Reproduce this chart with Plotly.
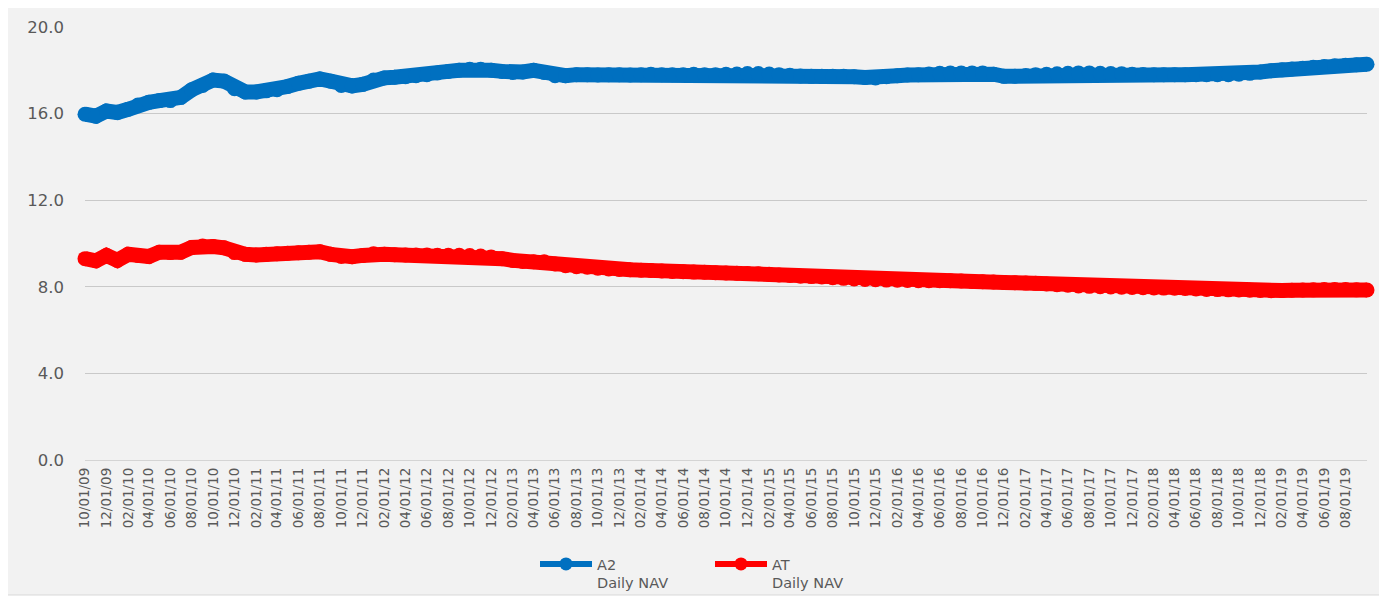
import pandas as pd
import plotly.graph_objects as go

# Monthly observation dates, Oct 2009 .. Oct 2019
dates = pd.date_range("2009-10-01", "2019-10-01", freq="MS")

a2_nav = [
    15.97, 15.88, 16.12,                                                        # 2009 Oct-Dec
    16.05, 16.20, 16.40, 16.52, 16.60, 16.60, 16.75, 17.10, 17.30, 17.55, 17.50, 17.15,  # 2010
    17.00, 17.00, 17.05, 17.10, 17.25, 17.40, 17.50, 17.60, 17.50, 17.30, 17.28, 17.35,  # 2011
    17.55, 17.65, 17.68, 17.70, 17.75, 17.80, 17.88, 17.95, 18.00, 18.05, 18.05, 18.00,  # 2012
    17.95, 17.90, 17.92, 18.00, 17.90, 17.75, 17.75, 17.80, 17.80, 17.78, 17.80, 17.80,  # 2013
    17.78, 17.80, 17.82, 17.80, 17.80, 17.80, 17.82, 17.80, 17.80, 17.82, 17.83, 17.85,  # 2014
    17.85, 17.83, 17.80, 17.77, 17.74, 17.72, 17.72, 17.72, 17.72, 17.70, 17.67, 17.65,  # 2015
    17.70, 17.75, 17.78, 17.80, 17.83, 17.86, 17.88, 17.88, 17.88, 17.88, 17.82, 17.72,  # 2016
    17.73, 17.76, 17.80, 17.82, 17.84, 17.86, 17.88, 17.88, 17.86, 17.85, 17.84, 17.82,  # 2017
    17.81, 17.80, 17.80, 17.80, 17.80, 17.80, 17.80, 17.80, 17.80, 17.82, 17.86, 17.92,  # 2018
    17.98, 18.02, 18.06, 18.10, 18.14, 18.18, 18.21, 18.23, 18.26,              # 2019 Jan-Sep
    18.28,                                                                      # 2019 Oct
]

at_nav = [
    9.30, 9.20, 9.45,                                                           # 2009 Oct-Dec
    9.22, 9.50, 9.45, 9.40, 9.60, 9.58, 9.60, 9.82, 9.88, 9.86, 9.80, 9.58,     # 2010
    9.50, 9.47, 9.50, 9.53, 9.55, 9.57, 9.60, 9.62, 9.50, 9.40, 9.39, 9.45,     # 2011
    9.53, 9.50, 9.48, 9.47, 9.47, 9.47, 9.46, 9.46, 9.46, 9.44, 9.42, 9.38,     # 2012
    9.30, 9.22, 9.17, 9.16, 9.16, 9.05, 8.97, 8.93, 8.90, 8.86, 8.82, 8.80,     # 2013
    8.79, 8.77, 8.75, 8.73, 8.71, 8.70, 8.68, 8.67, 8.65, 8.64, 8.63, 8.61,     # 2014
    8.60, 8.58, 8.55, 8.52, 8.49, 8.47, 8.45, 8.42, 8.39, 8.36, 8.34, 8.33,     # 2015
    8.31, 8.30, 8.29, 8.28, 8.28, 8.28, 8.28, 8.27, 8.25, 8.23, 8.22, 8.20,     # 2016
    8.19, 8.17, 8.16, 8.13, 8.10, 8.07, 8.04, 8.02, 8.00, 7.99, 7.98, 7.97,     # 2017
    7.96, 7.95, 7.94, 7.93, 7.92, 7.90, 7.88, 7.87, 7.86, 7.85, 7.84, 7.83,     # 2018
    7.82, 7.83, 7.84, 7.85, 7.86, 7.87, 7.88, 7.87, 7.86,                       # 2019 Jan-Sep
    7.85,                                                                       # 2019 Oct
]

series_names = ["A2<br>Daily NAV", "AT<br>Daily NAV"]
series_colors = ["#0070C0", "#FF0000"]
y_ticks = [0, 4, 8, 12, 16, 20]
x_ticks = list(dates[:-1:2])

# page body has an 8px margin; figure coordinates = screen coordinates - 8
OFF = 8
W, H = 1387 - OFF, 598 - OFF
ML, MT = 85 - OFF, 27 - OFF
PLOT_R, PLOT_B = 1367 - OFF, 460 - OFF
MR, MB = W - PLOT_R, H - PLOT_B
PW, PH = PLOT_R - ML, PLOT_B - MT


def px_x(p):
    return (p - OFF - ML) / PW


def px_y(p):
    return (PLOT_B - (p - OFF)) / PH


fig = go.Figure()
for name, vals, col in zip(series_names, [a2_nav, at_nav], series_colors):
    fig.add_trace(go.Scatter(
        x=dates, y=vals, mode="lines+markers", showlegend=False,
        line=dict(color=col, width=15),
        marker=dict(color=col, size=15, line=dict(width=0)),
        cliponaxis=False, hoverinfo="skip",
    ))
for name, col in zip(series_names, series_colors):
    fig.add_trace(go.Scatter(
        x=[None], y=[None], mode="lines+markers", name=name,
        line=dict(color=col, width=6),
        marker=dict(color=col, size=13),
    ))

# Excel chart-area box
fig.add_shape(type="rect", xref="paper", yref="paper", layer="below",
              x0=px_x(5), x1=px_x(1383), y0=px_y(595), y1=px_y(7),
              fillcolor="#F2F2F2", line=dict(color="#D9D9D9", width=1))

fig.update_layout(
    width=W, height=H,
    margin=dict(l=ML, r=MR, t=MT, b=MB, autoexpand=False),
    paper_bgcolor="white",
    plot_bgcolor="rgba(0,0,0,0)",
    font=dict(family="DejaVu Sans", color="#595959"),
    xaxis=dict(
        type="date",
        range=[dates[0], dates[-1]],
        tickmode="array", tickvals=x_ticks,
        tickformat="%m/%d/%y", tickangle=-90,
        tickfont=dict(size=13.5, color="#595959", family="DejaVu Sans"),
        showgrid=False, zeroline=False, showline=False, ticks="",
        ticklabelstandoff=4,
    ),
    yaxis=dict(
        range=[0, 20], tickmode="array", tickvals=y_ticks,
        tickformat=".1f",
        tickfont=dict(size=16.5, color="#595959", family="DejaVu Sans"),
        showgrid=True, gridcolor="#C9C9C9", gridwidth=1,
        zeroline=True, zerolinecolor="#D4D4D4", zerolinewidth=1,
        showline=False, ticks="", ticklabelstandoff=20,
    ),
    legend=dict(
        orientation="h", x=px_x(535), xanchor="left",
        y=px_y(548), yanchor="top", valign="top",
        bgcolor="rgba(0,0,0,0)",
        font=dict(size=14.5, color="#595959", family="DejaVu Sans"),
        entrywidth=108, entrywidthmode="pixels",
        itemwidth=52, tracegroupgap=0,
    ),
)

fig.write_html("out.html")
